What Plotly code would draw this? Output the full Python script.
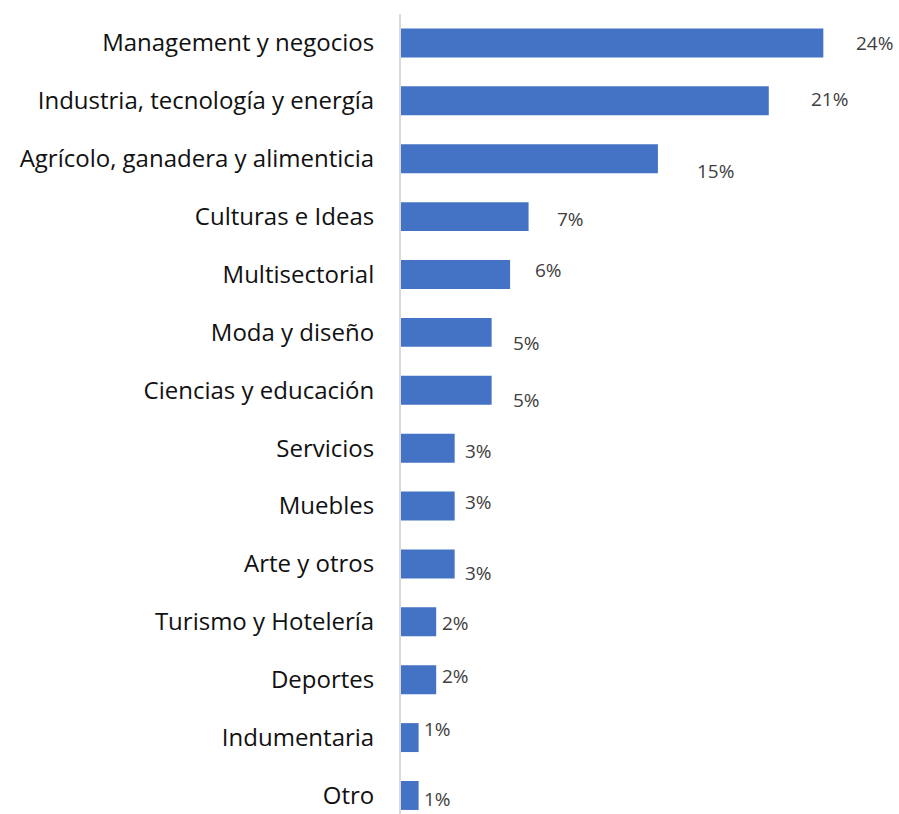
import plotly.graph_objects as go

# Sectores (de arriba a abajo) y porcentajes
sectores = [
    "Management y negocios",
    "Industria, tecnología y energía",
    "Agrícolo, ganadera y alimenticia",
    "Culturas e Ideas",
    "Multisectorial",
    "Moda y diseño",
    "Ciencias y educación",
    "Servicios",
    "Muebles",
    "Arte y otros",
    "Turismo y Hotelería",
    "Deportes",
    "Indumentaria",
    "Otro",
]
porcentajes = [24.0, 20.9, 14.6, 7.25, 6.2, 5.15, 5.15, 3.05, 3.05, 3.05, 2.0, 2.0, 1.0, 1.0]
etiquetas = ["24%", "21%", "15%", "7%", "6%", "5%", "5%", "3%", "3%", "3%", "2%", "2%", "1%", "1%"]

# desplazamiento de cada etiqueta (px) como en el original: (dx, dy hacia arriba)
desplaz = [(31, 0), (40, 1.5), (37, -12.7), (26, -2), (23, 4), (19, -10.3), (19, -9.3),
           (8, -2.7), (8, 4.3), (8, -9.3), (4, -1.6), (4, 3.3), (3, 8.5), (3, -3.5)]

AZUL = '#4472C4'

fig = go.Figure()
fig.add_trace(go.Bar(
    y=sectores, x=porcentajes, orientation='h',
    marker=dict(color=AZUL, line=dict(width=0)),
    width=0.5, hoverinfo='skip',
))

for s, v, t, (dx, dy) in zip(sectores, porcentajes, etiquetas, desplaz):
    fig.add_annotation(
        x=v, y=s, text=t, showarrow=False,
        xanchor='left', yanchor='middle',
        xshift=dx, yshift=dy,
        font=dict(family='Open Sans', size=19, color='#404040'),
    )

fig.update_layout(
    width=899, height=814,
    paper_bgcolor='white', plot_bgcolor='white',
    margin=dict(l=401, r=0, t=14, b=0),
    showlegend=False,
    font=dict(family='Open Sans'),
    xaxis=dict(range=[0, 28.3], visible=False, showgrid=False, zeroline=False),
    yaxis=dict(
        type='category', categoryorder='array', categoryarray=sectores,
        range=[13.32, -0.5],
        showline=True, linecolor='#d9d9d9', linewidth=2,
        showgrid=False, zeroline=False, ticks='',
        ticklabelstandoff=20,
        tickfont=dict(family='Open Sans', size=24, color='#111111'),
    ),
)

# sin margen de página para que la figura ocupe toda la ventana
fig.write_html(
    "out.html",
    config={'displayModeBar': False},
    post_script="document.body.style.margin='0';document.body.style.overflow='hidden';",
)
